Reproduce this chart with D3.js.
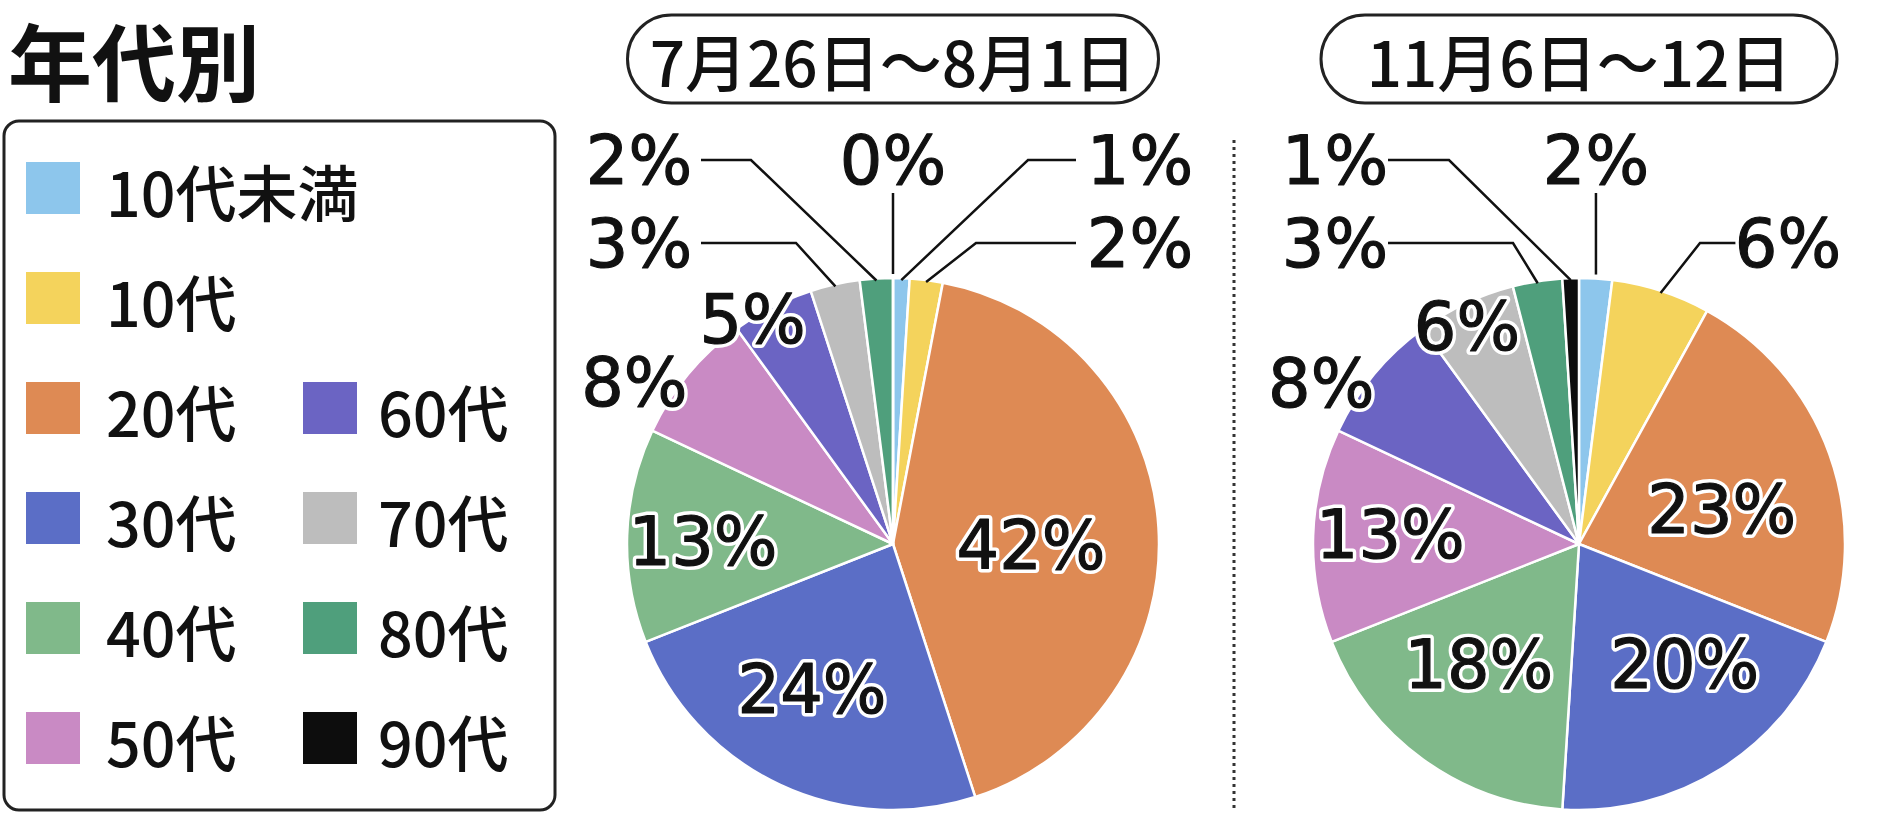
<!DOCTYPE html>
<html lang="ja">
<head>
<meta charset="utf-8">
<script src="https://cdn.jsdelivr.net/npm/d3@7"></script>
<style>
  html, body { margin: 0; padding: 0; background: #fff; }
  svg { display: block; }
</style>
</head>
<body>
<svg id="chart" width="1901" height="823"></svg>
<script>
// ---- data ----
const ageGroups = ["10代未満", "10代", "20代", "30代", "40代", "50代", "60代", "70代", "80代", "90代"];
const groupColors = ["#8dc6ec", "#f4d35c", "#de8a54", "#5b6ec6", "#80b98a", "#c98ac4", "#6b64c3", "#bdbdbd", "#4f9f7c", "#0d0d0d"];
const periodLabels = ["7月26日～8月1日", "11月6日～12日"];
const sharesJulAug = [1, 2, 42, 24, 13, 8, 5, 3, 2, 0];
const sharesNov = [2, 6, 23, 20, 18, 13, 8, 6, 3, 1];
const legendColumn = [0, 0, 0, 0, 0, 0, 1, 1, 1, 1];
const legendRow = [0, 1, 2, 3, 4, 5, 2, 3, 4, 5];

// ---- label layout ----
// "in": label on the slice's polar position (radius, angle nudge in degrees)
// "side": label beside the pie with an elbow leader line
// "top": label above the pie with a straight vertical leader
const labelLayoutJulAug = [
  { kind: "side", dx: 247, dy: -384, lineStart: 183, elbow: 135 },
  { kind: "side", dx: 247, dy: -301, lineStart: 183, elbow: 83 },
  { kind: "in", r: 138, nudge: 4 },
  { kind: "in", r: 166, nudge: 4 },
  { kind: "in", r: 190, nudge: -1 },
  { kind: "in", r: 305, nudge: -7.6 },
  { kind: "in", r: 265, nudge: -5 },
  { kind: "side", dx: -254, dy: -301, lineStart: -192, elbow: -97 },
  { kind: "side", dx: -254, dy: -384, lineStart: -192, elbow: -142 },
  { kind: "top", dy: -384 }
];
const labelLayoutNov = [
  { kind: "top", dy: -384 },
  { kind: "side", dx: 209, dy: -301, lineStart: 161, elbow: 121 },
  { kind: "in", r: 147, nudge: 6 },
  { kind: "in", r: 160, nudge: -9 },
  { kind: "in", r: 156, nudge: 4 },
  { kind: "in", r: 189, nudge: 1.4 },
  { kind: "in", r: 304, nudge: -7.6 },
  { kind: "in", r: 245, nudge: -2 },
  { kind: "side", dx: -244, dy: -301, lineStart: -191, elbow: -66 },
  { kind: "side", dx: -244, dy: -384, lineStart: -191, elbow: -130 }
];
const periodBoxWidths = [531, 516];

// ---- setup ----
const svg = d3.select("#chart");
const radius = 266;
const centerY = 544;
const pieX = d3.scalePoint().domain(periodLabels).range([893, 1579]);
const color = d3.scaleOrdinal().domain(ageGroups).range(groupColors);
const pctFont = "'DejaVu Sans', 'Noto Sans', sans-serif";
const jpFont = "'Noto Sans CJK JP', 'Noto Sans', sans-serif";

// ---- heading ----
svg.append("text")
  .attr("x", 8).attr("y", 58)
  .attr("dominant-baseline", "central")
  .attr("font-family", jpFont).attr("font-weight", 700).attr("font-size", 84)
  .attr("fill", "#111")
  .text("年代別");

// ---- legend ----
const legend = svg.append("g");
legend.append("rect")
  .attr("x", 4).attr("y", 121).attr("width", 551).attr("height", 689)
  .attr("rx", 15).attr("fill", "#fff").attr("stroke", "#222").attr("stroke-width", 3);

const rowY = d3.scaleLinear().domain([0, 5]).range([188, 738]);
const swatchX = d3.scaleOrdinal().domain([0, 1]).range([26, 303]);
const labelX = d3.scaleOrdinal().domain([0, 1]).range([106, 378]);

const items = legend.selectAll("g.item")
  .data(ageGroups.map((g, i) => ({ group: g, col: legendColumn[i], row: legendRow[i] })))
  .join("g").attr("class", "item");
items.append("rect")
  .attr("x", d => swatchX(d.col)).attr("y", d => rowY(d.row) - 26)
  .attr("width", 54).attr("height", 52)
  .attr("fill", d => color(d.group));
items.append("text")
  .attr("x", d => labelX(d.col)).attr("y", d => rowY(d.row) + 2)
  .attr("dominant-baseline", "central")
  .attr("font-family", jpFont).attr("font-weight", 500).attr("font-size", 61)
  .attr("fill", "#111")
  .text(d => d.group);

// ---- divider ----
svg.append("line")
  .attr("x1", 1234).attr("x2", 1234).attr("y1", 140).attr("y2", 812)
  .attr("stroke", "#333").attr("stroke-width", 3).attr("stroke-dasharray", "3 4");

// ---- pies ----
const pie = d3.pie().sort(null).value(d => d.value);
const arc = d3.arc().innerRadius(0).outerRadius(radius);

function polar(r, angle) {
  return [r * Math.sin(angle), -r * Math.cos(angle)];
}

function drawPie(period, shares, layout, boxWidth) {
  const cx = pieX(period);

  // period caption in a pill box
  const cap = svg.append("g").attr("transform", `translate(${cx},59)`);
  cap.append("rect")
    .attr("x", -boxWidth / 2).attr("y", -44).attr("width", boxWidth).attr("height", 88)
    .attr("rx", 44).attr("fill", "#fff").attr("stroke", "#222").attr("stroke-width", 3);
  cap.append("text")
    .attr("text-anchor", "middle").attr("dominant-baseline", "central").attr("y", 1)
    .attr("font-family", jpFont).attr("font-weight", 500).attr("font-size", 62)
    .attr("fill", "#111")
    .text(period);

  const g = svg.append("g").attr("transform", `translate(${cx},${centerY})`);
  const arcs = pie(ageGroups.map((grp, i) => ({ group: grp, value: shares[i] })));

  g.selectAll("path.slice")
    .data(arcs)
    .join("path").attr("class", "slice")
    .attr("d", arc)
    .attr("fill", d => color(d.data.group))
    .attr("stroke", "#fff").attr("stroke-width", 2.5).attr("stroke-linejoin", "round");

  const lineGen = d3.line();
  arcs.forEach((a, i) => {
    const lay = layout[i];
    const mid = (a.startAngle + a.endAngle) / 2;
    const text = `${a.data.value}%`;
    let tx, ty;
    if (lay.kind === "in") {
      [tx, ty] = polar(lay.r, mid + lay.nudge * Math.PI / 180);
    } else if (lay.kind === "side") {
      tx = lay.dx; ty = lay.dy;
      const end = polar(radius - 2, mid);
      g.append("path")
        .attr("d", lineGen([[lay.lineStart, lay.dy], [lay.elbow, lay.dy], end]))
        .attr("fill", "none").attr("stroke", "#111").attr("stroke-width", 2.5);
    } else {
      const end = polar(radius + 4, mid);
      tx = end[0]; ty = lay.dy;
      g.append("line")
        .attr("x1", end[0]).attr("x2", end[0]).attr("y1", lay.dy + 33).attr("y2", end[1])
        .attr("stroke", "#111").attr("stroke-width", 2.5);
    }
    // white halo first, then the figure with a thin dark outline for weight
    const label = g.append("g").attr("transform", `translate(${tx},${ty})`);
    label.append("text")
      .attr("dy", "0.36em").attr("text-anchor", "middle")
      .attr("font-family", pctFont).attr("font-size", 67)
      .attr("fill", "#fff").attr("stroke", "#fff").attr("stroke-width", 8)
      .attr("stroke-linejoin", "round")
      .text(text);
    label.append("text")
      .attr("dy", "0.36em").attr("text-anchor", "middle")
      .attr("font-family", pctFont).attr("font-size", 67)
      .attr("fill", "#111").attr("stroke", "#111").attr("stroke-width", 1.2)
      .attr("stroke-linejoin", "round")
      .text(text);
  });
}

drawPie(periodLabels[0], sharesJulAug, labelLayoutJulAug, periodBoxWidths[0]);
drawPie(periodLabels[1], sharesNov, labelLayoutNov, periodBoxWidths[1]);
</script>
</body>
</html>
